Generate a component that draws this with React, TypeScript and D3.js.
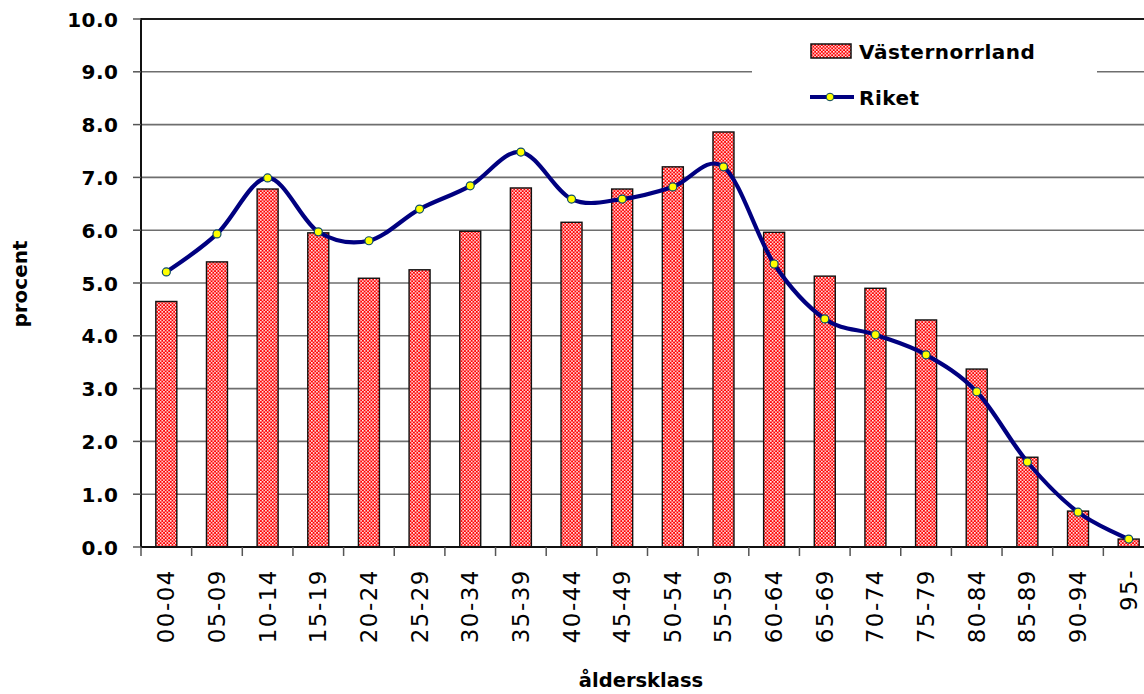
import React from "react";
import * as d3 from "d3";

const categories = ["00-04","05-09","10-14","15-19","20-24","25-29","30-34","35-39","40-44","45-49","50-54","55-59","60-64","65-69","70-74","75-79","80-84","85-89","90-94","95-"];
const vasternorrland = [4.65,5.40,6.78,5.95,5.09,5.25,5.98,6.80,6.15,6.78,7.20,7.86,5.96,5.13,4.90,4.30,3.37,1.70,0.68,0.15];
const riket = [5.21,5.93,6.99,5.97,5.80,6.40,6.84,7.48,6.59,6.59,6.82,7.20,5.36,4.32,4.02,3.64,2.94,1.61,0.66,0.15];
const yTicks = [0,1,2,3,4,5,6,7,8,9,10];

const W = 1144, H = 694;
const X0 = 141, BAND = 50.65;
const Y0 = 547, Y1 = 19;

export default function App() {
  const x = d3.scaleBand<string>().domain(categories).range([X0, X0 + BAND * categories.length]).paddingInner(0).paddingOuter(0);
  const y = d3.scaleLinear().domain([0, 10]).range([Y0, Y1]);
  const barW = 21;
  const cx = (c: string) => (x(c) as number) + x.bandwidth() / 2;
  const line = d3.line<number>().x((_, i) => cx(categories[i])).y(d => y(d)).curve(d3.curveCardinal.tension(0));
  const xEnd = X0 + BAND * categories.length;
  const font = "'DejaVu Sans', Verdana, sans-serif";
  return (
    <svg width={W} height={H} style={{ position: "fixed", left: 0, top: 0, background: "#fff" }} fontFamily={font}>
      <defs>
        <pattern id="chk" width="3.4" height="3.4" patternUnits="userSpaceOnUse">
          <rect width="3.4" height="3.4" fill="#ff0000" />
          <rect x="0" y="0" width="1.5" height="1.5" fill="#ffffff" />
          <rect x="1.7" y="1.7" width="1.5" height="1.5" fill="#ffffff" />
        </pattern>
        <clipPath id="clip"><rect x={0} y={0} width={W} height={H} /></clipPath>
      </defs>
      <rect width={W} height={H} fill="#fff" />
      {yTicks.filter(t => t > 0 && t < 10).map(t => (
        <line key={t} x1={X0} x2={xEnd} y1={y(t)} y2={y(t)} stroke="#6e6e6e" strokeWidth={1.6} />
      ))}
      <line x1={X0} x2={xEnd} y1={y(10)} y2={y(10)} stroke="#1a1a1a" strokeWidth={2.2} />
      {categories.map((c, i) => (
        <rect key={c} x={cx(c) - barW / 2} y={y(vasternorrland[i])} width={barW} height={Y0 - y(vasternorrland[i])}
          fill="url(#chk)" stroke="#111" strokeWidth={1.4} />
      ))}
      <line x1={X0} x2={X0} y1={Y1 - 1} y2={Y0} stroke="#111" strokeWidth={2} />
      <line x1={X0} x2={xEnd} y1={Y0} y2={Y0} stroke="#111" strokeWidth={2} />
      {yTicks.map(t => (
        <line key={"yt" + t} x1={X0 - 8} x2={X0} y1={y(t)} y2={y(t)} stroke="#555" strokeWidth={1.5} />
      ))}
      {categories.map((c) => (
        <line key={"xt" + c} x1={x(c) as number} x2={x(c) as number} y1={Y0} y2={Y0 + 9} stroke="#555" strokeWidth={1.5} />
      ))}
      {yTicks.map(t => (
        <text key={"yl" + t} x={118.5} y={y(t) + 7.5} textAnchor="end" fontSize={20} fontWeight="bold" letterSpacing={0.5} fill="#000">
          {d3.format(".1f")(t)}
        </text>
      ))}
      {categories.map((c) => (
        <text key={"xl" + c} transform={`translate(${cx(c) + 8},${569}) rotate(-90)`} textAnchor="end" fontSize={23} letterSpacing={1.5} fill="#000">
          {c}
        </text>
      ))}
      <rect x={752} y={27} width={345} height={92} fill="#fff" />
      <rect x={811} y={44} width={40} height={14} fill="url(#chk)" stroke="#111" strokeWidth={1.5} />
      <text x={859} y={58.5} fontSize={20} fontWeight="bold" letterSpacing={0.5} fill="#000">Västernorrland</text>
      <line x1={810} x2={854} y1={97} y2={97} stroke="#000080" strokeWidth={4} />
      <circle cx={830} cy={97} r={3.8} fill="#ffff00" stroke="#004060" strokeWidth={1} />
      <text x={859} y={105} fontSize={20} fontWeight="bold" letterSpacing={0.5} fill="#000">Riket</text>
      <g clipPath="url(#clip)">
        <path d={line(riket) as string} fill="none" stroke="#000080" strokeWidth={4.2} strokeLinejoin="round" />
        {riket.map((v, i) => (
          <circle key={"p" + i} cx={cx(categories[i])} cy={y(v)} r={4} fill="#ffff00" stroke="#0a4a6a" strokeWidth={1.2} />
        ))}
      </g>
      <text transform={`translate(27,${284}) rotate(-90)`} textAnchor="middle" fontSize={20} fontWeight="bold" fill="#000">procent</text>
      <text x={641} y={687} textAnchor="middle" fontSize={19.5} fontWeight="bold" fill="#000">åldersklass</text>
    </svg>
  );
}
